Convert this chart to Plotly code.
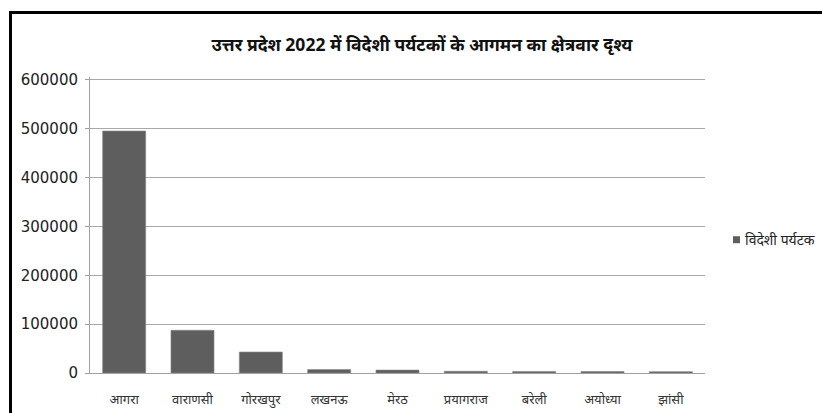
import plotly.graph_objects as go

categories = ["आगरा", "वाराणसी", "गोरखपुर", "लखनऊ", "मेरठ", "प्रयागराज", "बरेली", "अयोध्या", "झांसी"]
values = [495500, 87500, 43000, 7000, 6000, 3500, 3200, 3000, 2800]
series_name = "विदेशी पर्यटक"
title_text = "उत्तर प्रदेश 2022 में विदेशी पर्यटकों के आगमन का क्षेत्रवार दृश्य"
y_ticks = [0, 100000, 200000, 300000, 400000, 500000, 600000]

W, H = 822, 413
L, R, T, B = 90, 117, 77, 39.5
pw, ph = W - L - R, H - T - B
bar_color = "#5e5e5e"

def px_x(x):
    return (x - L) / pw

def px_y(y):
    return (H - B - y) / ph

fig = go.Figure()
fig.add_trace(go.Bar(
    x=categories, y=values, name=series_name,
    marker=dict(color=bar_color, line=dict(color="#8a8a8a", width=0.6)),
    showlegend=False,
))

fig.update_layout(
    width=W, height=H,
    margin=dict(l=L, r=R, t=T, b=B, autoexpand=False),
    paper_bgcolor="white", plot_bgcolor="white",
    font=dict(family="Noto Sans, DejaVu Sans, sans-serif", color="#222"),
    bargap=0.37,
    title=dict(text="<b>" + title_text + "</b>", x=422 / W, xanchor="center",
               y=1 - 45 / H, yanchor="middle", font=dict(size=17.5, color="#111")),
    xaxis=dict(showgrid=False, showline=True, linecolor="#a0a0a0", linewidth=1,
               tickfont=dict(size=13, color="#333"), ticks="", ticklabelstandoff=14,
               automargin=False),
    yaxis=dict(range=[0, 606000], tickvals=y_ticks, ticktext=[str(v) for v in y_ticks],
               showgrid=True, gridcolor="#a8a8a8", gridwidth=1,
               showline=True, linecolor="#a0a0a0", linewidth=1,
               ticks="outside", ticklen=4, tickcolor="#a0a0a0",
               tickfont=dict(family="DejaVu Sans", size=15, color="#222"),
               ticklabelstandoff=4, zeroline=False, automargin=False),
    shapes=[
        dict(type="rect", xref="paper", yref="paper",
             x0=px_x(10.5), x1=px_x(W + 10), y0=px_y(H + 10), y1=px_y(12.5),
             line=dict(color="black", width=3), fillcolor="rgba(0,0,0,0)"),
        dict(type="rect", xref="paper", yref="paper",
             x0=px_x(733), x1=px_x(740), y0=px_y(243.5), y1=px_y(236.5),
             line=dict(width=0), fillcolor=bar_color),
    ],
    annotations=[
        dict(text=series_name, xref="paper", yref="paper", x=px_x(743), y=px_y(240),
             xanchor="left", yanchor="middle", showarrow=False,
             font=dict(size=14, color="#222")),
    ],
)

fig.write_html("out.html", config={"displayModeBar": False},
               post_script="document.body.style.margin='0px';")
